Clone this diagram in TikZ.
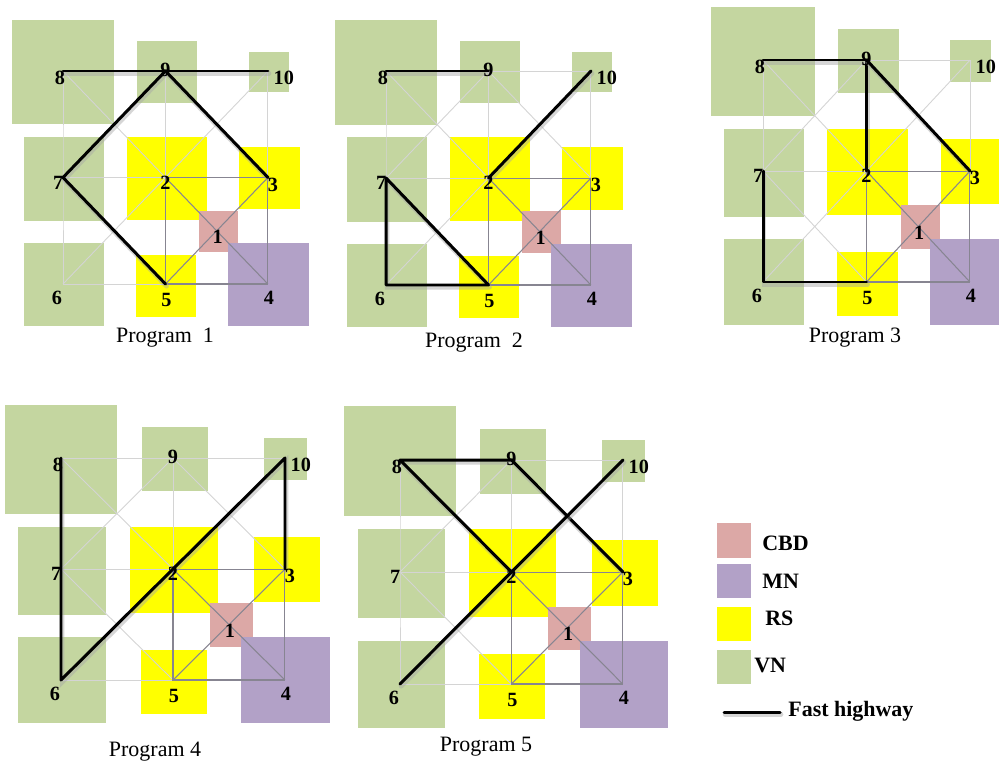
\documentclass[tikz,border=0pt]{standalone}
\usepackage{fontspec}
\setmainfont{Liberation Serif}

% district colours
\definecolor{vncol}{RGB}{196,214,160}
\definecolor{rscol}{RGB}{255,255,0}
\definecolor{cbdcol}{RGB}{220,168,166}
\definecolor{mncol}{RGB}{178,161,199}
\definecolor{roadlight}{RGB}{212,212,212}
\definecolor{roaddark}{RGB}{135,133,145}

\tikzset{
  vn/.style={fill=vncol},
  rs/.style={fill=rscol},
  cbd/.style={fill=cbdcol},
  mn/.style={fill=mncol},
  roadthin/.style={draw=roadlight, line width=0.5pt},
  roadcore/.style={draw=roaddark, line width=0.6pt},
  highway/.style={draw=black, line width=1.7pt, line cap=round, line join=round},
  hwshade/.style={draw=black!35, opacity=0.45, line width=2.6pt, line cap=round,
                  transform canvas={xshift=0.6pt, yshift=-1.3pt}},
  num/.style={font=\bfseries\fontsize{11.5}{13}\selectfont, inner sep=0pt},
  caption/.style={font=\fontsize{12.5}{14}\selectfont, inner sep=0pt},
  legtext/.style={font=\bfseries\fontsize{12.5}{14}\selectfont, inner sep=0pt, anchor=west}
}

% one city layout: districts, road grid and numbered junctions (#1 = prefix)
\newcommand{\citylayout}[1]{%
  % districts
  \fill[vn]  (-0.50,-2.48) rectangle (0.50,-1.50);
  \fill[vn]  (0.72,-2.28) rectangle (1.31,-1.70);
  \fill[vn]  (1.81,-2.18) rectangle (2.20,-1.80);
  \fill[vn]  (-0.38,-1.38) rectangle (0.40,-0.59);
  \fill[rs]  (0.62,-1.38) rectangle (1.40,-0.60);
  \fill[rs]  (1.72,-1.29) rectangle (2.31,-0.70);
  \fill[cbd] (1.33,-0.69) rectangle (1.71,-0.30);
  \fill[mn]  (1.61,-0.385) rectangle (2.40,0.39);
  \fill[rs]  (0.71,-0.27) rectangle (1.30,0.31);
  \fill[vn]  (-0.38,-0.385) rectangle (0.40,0.39);
  % junctions
  \coordinate (#1-8)  at (0,-2);
  \coordinate (#1-9)  at (1,-2);
  \coordinate (#1-10) at (2,-2);
  \coordinate (#1-7)  at (0,-1);
  \coordinate (#1-2)  at (1,-1);
  \coordinate (#1-3)  at (2,-1);
  \coordinate (#1-6)  at (0,0);
  \coordinate (#1-5)  at (1,0);
  \coordinate (#1-4)  at (2,0);
  \coordinate (#1-1)  at (1.5,-0.5);
  % ordinary roads
  \draw[roadthin] (#1-8) -- (#1-9) -- (#1-10) -- (#1-3);
  \draw[roadthin] (#1-8) -- (#1-7) -- (#1-6) -- (#1-5);
  \draw[roadthin] (#1-7) -- (#1-2) -- (#1-9);
  \draw[roadthin] (#1-8) -- (#1-2) (#1-9) -- (#1-7);
  \draw[roadthin] (#1-9) -- (#1-3) (#1-10) -- (#1-2);
  \draw[roadthin] (#1-7) -- (#1-5) (#1-6) -- (#1-2);
  % core square around the CBD
  \draw[roadcore] (#1-2) -- (#1-3) -- (#1-4) -- (#1-5) -- cycle;
  \draw[roadcore] (#1-2) -- (#1-1) -- (#1-4) (#1-3) -- (#1-1) -- (#1-5);
}

% junction numbers
\newcommand{\citynumbers}[1]{%
  \node[num, xshift=-1.7pt, yshift=-4pt]  (#1-l8)  at (#1-8)  {8};
  \node[num, yshift=0.5pt]                (#1-l9)  at (#1-9)  {9};
  \node[num, xshift=9pt, yshift=-4pt]     (#1-l10) at (#1-10) {10};
  \node[num, xshift=-2.8pt, yshift=-2.8pt](#1-l7)  at (#1-7)  {7};
  \node[num, yshift=-2.8pt]               (#1-l2)  at (#1-2)  {2};
  \node[num, xshift=2.8pt, yshift=-4pt]   (#1-l3)  at (#1-3)  {3};
  \node[num, xshift=-3.4pt, yshift=-8pt]  (#1-l6)  at (#1-6)  {6};
  \node[num, xshift=0.5pt, yshift=-9pt]   (#1-l5)  at (#1-5)  {5};
  \node[num, xshift=0.5pt, yshift=-8pt]   (#1-l4)  at (#1-4)  {4};
  \node[num, xshift=0.5pt, yshift=-3.4pt] (#1-l1)  at (#1-1)  {1};
}

% a fast highway with its soft shadow
\newcommand{\fastway}[1]{%
  \draw[hwshade] #1;
  \draw[highway] #1;
}

\begin{document}
\begin{tikzpicture}[x=0.02cm, y=-0.02cm]
\useasboundingbox (0,0) rectangle (999,764);
\clip (0,0) rectangle (999,764);
\fill[white] (0,0) rectangle (999,764);

% Program 1
\begin{scope}[shift={(63,284)}, xscale=102.5, yscale=106.5]
  \citylayout{a}
\end{scope}
\fastway{(a-8) -- (a-10)}
\fastway{(a-3) -- (a-9) -- (a-7) -- (a-5)}
\citynumbers{a}
\node[caption] (capa) at (165,338) {Program\ \ 1};

% Program 2
\begin{scope}[shift={(386,285)}, xscale=102.5, yscale=107]
  \citylayout{b}
\end{scope}
\fastway{(b-8) -- (b-9)}
\fastway{(b-10) -- (b-2)}
\fastway{(b-5) -- (b-7) -- (b-6) -- (b-5)}
\citynumbers{b}
\node[caption] (capb) at (474,343) {Program\ \ 2};

% Program 3
\begin{scope}[shift={(763,282)}, xscale=103.5, yscale=111]
  \citylayout{c}
\end{scope}
\fastway{(c-8) -- (c-9) -- (c-2)}
\fastway{(c-9) -- (c-3)}
\fastway{(c-7) -- (c-6) -- (c-5)}
\citynumbers{c}
\node[caption] (capc) at (855,338) {Program 3};

% Program 4
\begin{scope}[shift={(61,680)}, xscale=112, yscale=111]
  \citylayout{d}
\end{scope}
\fastway{(d-8) -- (d-6) -- (d-10) -- (d-3)}
\citynumbers{d}
\node[caption] (capd) at (155,752) {Program 4};

% Program 5
\begin{scope}[shift={(400,684)}, xscale=111.5, yscale=112]
  \citylayout{e}
\end{scope}
\fastway{(e-2) -- (e-8) -- (e-9) -- (e-3)}
\fastway{(e-6) -- (e-10)}
\citynumbers{e}
\node[caption] (cape) at (486,747) {Program 5};

% legend
\fill[cbd] (717,523) rectangle (751,558);
\fill[mn]  (717,564) rectangle (751,598);
\fill[rs]  (717,607) rectangle (751,641);
\fill[vn]  (717,650) rectangle (751,684);
\node[legtext] (lcbd) at (762,543) {CBD};
\node[legtext] (lmn)  at (762,581) {MN};
\node[legtext] (lrs)  at (765,618) {RS};
\node[legtext] (lvn)  at (754,665) {VN};
\coordinate (hwa) at (724,712);
\coordinate (hwb) at (780,712);
\fastway{(hwa) -- (hwb)}
\node[legtext] (lhw) at (788,711) {Fast highway};
\end{tikzpicture}
\end{document}
